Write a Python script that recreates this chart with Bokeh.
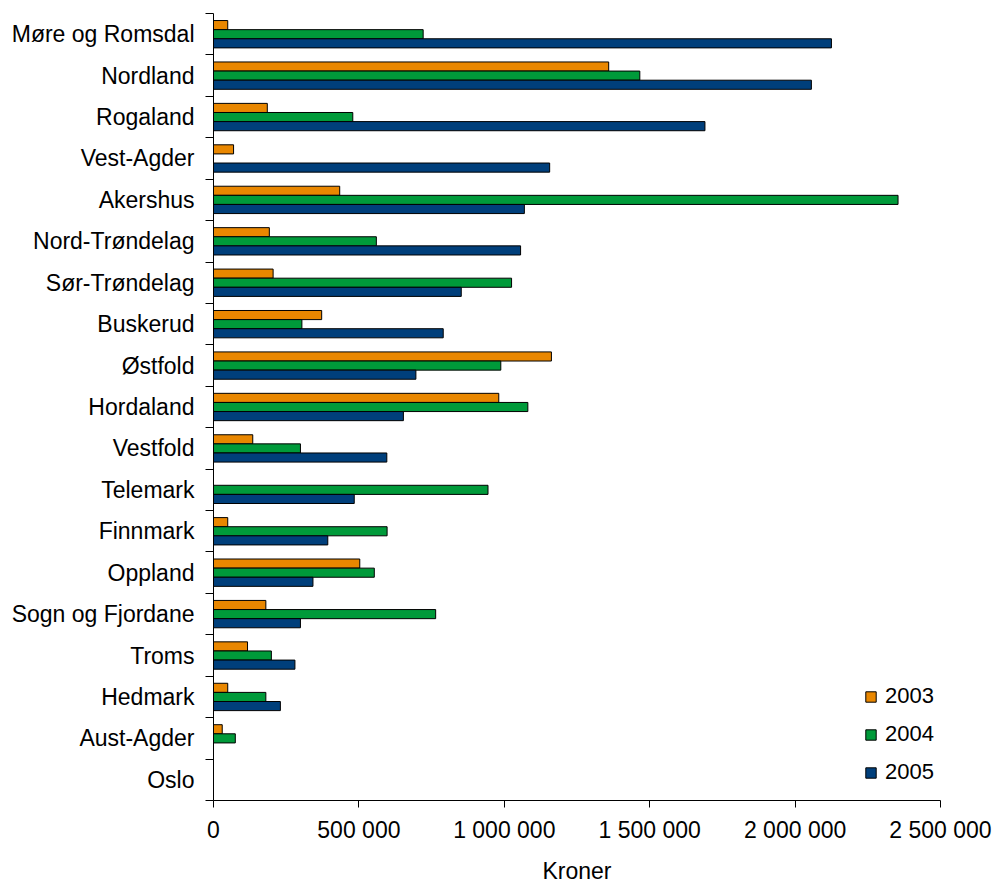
from bokeh.plotting import figure
from bokeh.models import (ColumnDataSource, Range1d, FixedTicker,
                          CustomJSTickFormatter)
from bokeh.transform import dodge
from bokeh.embed import file_html
from bokeh.resources import INLINE

# Counties, listed top to bottom as drawn
counties = ["Møre og Romsdal", "Nordland", "Rogaland", "Vest-Agder", "Akershus",
            "Nord-Trøndelag", "Sør-Trøndelag", "Buskerud", "Østfold", "Hordaland",
            "Vestfold", "Telemark", "Finnmark", "Oppland", "Sogn og Fjordane",
            "Troms", "Hedmark", "Aust-Agder", "Oslo"]

# Amounts in kroner per year
v2003 = [49000, 1359000, 185000, 69000, 434000, 192000, 205000, 372000, 1162000,
         981000, 135000, 0, 49000, 503000, 180000, 117000, 49000, 30000, 0]
v2004 = [721000, 1466000, 479000, 0, 2354000, 560000, 1025000, 304000, 988000,
         1081000, 299000, 944000, 597000, 553000, 764000, 199000, 180000, 75000, 0]
v2005 = [2125000, 2056000, 1690000, 1156000, 1069000, 1056000, 852000, 790000,
         696000, 653000, 596000, 484000, 393000, 342000, 299000, 280000, 230000, 0, 0]

series = ["2003", "2004", "2005"]
colors = ["#E98700", "#009A3A", "#003F7B"]

x_ticks = [0, 500000, 1000000, 1500000, 2000000, 2500000]
x_tick_labels = ["0", "500 000", "1 000 000", "1 500 000", "2 000 000", "2 500 000"]

n = len(counties)
# slot position of each county on the value axis (first county at the top)
pos = [n - i - 0.5 for i in range(n)]

src = ColumnDataSource(dict(county=counties, pos=pos,
                            y2003=v2003, y2004=v2004, y2005=v2005))

FONT = "Liberation Sans"
TEXT_SIZE = "23px"

p = figure(frame_width=727, frame_height=787,
           x_range=Range1d(0, x_ticks[-1]), y_range=Range1d(0, n),
           output_backend="svg", toolbar_location=None,
           min_border_left=213, min_border_right=54,
           min_border_top=13, min_border_bottom=85)
p.outline_line_color = None
p.background_fill_color = "white"
p.border_fill_color = "white"
p.xgrid.visible = False
p.ygrid.visible = False

bar_h = 0.22
offsets = [bar_h, 0.0, -bar_h]
for name, col, off in zip(series, colors, offsets):
    p.hbar(y=dodge("pos", off, range=p.y_range), left=0, right="y" + name,
           height=bar_h, source=src, fill_color=col,
           line_color="black", line_width=1, legend_label=name)

# value axis
xa = p.xaxis[0]
xa.ticker = FixedTicker(ticks=x_ticks)
xa.major_label_overrides = {t: s for t, s in zip(x_ticks, x_tick_labels)}
xa.axis_label = "Kroner"
xa.axis_label_text_font = FONT
xa.axis_label_text_font_size = TEXT_SIZE
xa.axis_label_text_font_style = "normal"
xa.axis_label_text_color = "black"
xa.axis_label_standoff = 12
xa.major_label_text_font = FONT
xa.major_label_text_font_size = TEXT_SIZE
xa.major_label_text_color = "black"
xa.major_label_standoff = 9
xa.axis_line_color = "black"
xa.major_tick_line_color = "black"
xa.major_tick_in = 0
xa.major_tick_out = 7
xa.minor_tick_line_color = None

# county axis: names at slot centres, tick marks at slot boundaries
ya = p.yaxis[0]
ya.ticker = FixedTicker(ticks=pos, minor_ticks=list(range(n + 1)))
ya.formatter = CustomJSTickFormatter(
    args=dict(names=counties[::-1]),
    code="return names[Math.round(tick - 0.5)];")
ya.major_label_text_font = FONT
ya.major_label_text_font_size = TEXT_SIZE
ya.major_label_text_color = "black"
ya.major_tick_line_color = None
ya.major_tick_in = 0
ya.major_tick_out = 8
ya.major_label_standoff = 11
ya.minor_tick_line_color = "black"
ya.minor_tick_in = 0
ya.minor_tick_out = 8
ya.axis_line_color = "black"

lg = p.legend[0]
lg.location = (651, 15)
lg.border_line_color = None
lg.background_fill_alpha = 0
lg.padding = 0
lg.margin = 0
lg.glyph_width = 13
lg.glyph_height = 13
lg.label_standoff = 8
lg.label_text_font = FONT
lg.label_text_font_size = "22px"
lg.label_text_color = "black"
lg.label_height = 22
lg.spacing = 12

open("out.html", "w").write(file_html(p, INLINE))
